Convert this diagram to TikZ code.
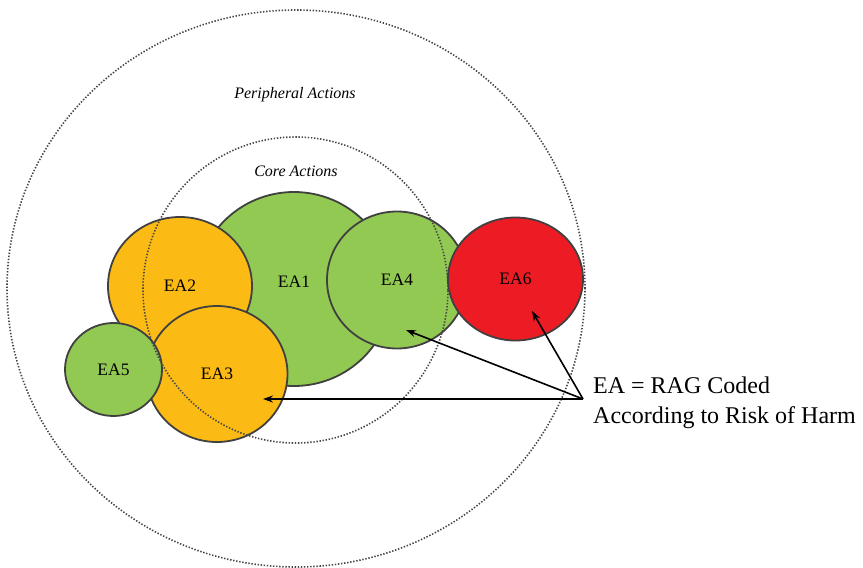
\documentclass[tikz,border=0pt]{standalone}
\usepackage{fontspec}
\setmainfont{Liberation Serif}
\usetikzlibrary{shapes.geometric,arrows.meta}
\definecolor{ragGreen}{RGB}{146,201,83}
\definecolor{ragAmber}{RGB}{252,187,20}
\definecolor{ragRed}{RGB}{237,28,36}
\definecolor{rimGray}{RGB}{64,64,64}
\definecolor{dotGray}{RGB}{70,70,70}
\tikzset{
  ea/.style={ellipse, draw=rimGray, line width=1.8pt, inner sep=0pt,
    font=\fontsize{17.5}{17.5}\selectfont},
  zone/.style={ellipse, draw=dotGray, line width=1.6pt,
    dash pattern=on 1.4pt off 1.7pt, inner sep=0pt},
  zonelabel/.style={font=\fontsize{16}{16}\selectfont\itshape},
  pointer/.style={line width=1.6pt, -{Stealth[length=10pt,width=7pt]}}
}
\begin{document}
\begin{tikzpicture}[x=1pt,y=-1pt]
  \useasboundingbox (0,0) rectangle (863,568);

  % element actions, back to front
  \node[ea, fill=ragGreen, minimum width=196pt, minimum height=194pt,
        label={[font=\fontsize{17.5}{17.5}\selectfont, yshift=7pt]center:EA1}]
        (ea1) at (294,289) {};
  \node[ea, fill=ragAmber, minimum width=144pt, minimum height=138pt] (ea2) at (180,286) {EA2};
  \node[ea, fill=ragGreen, minimum width=140pt, minimum height=137pt] (ea4) at (397,280) {EA4};
  \node[ea, fill=ragRed,   minimum width=135pt, minimum height=123pt] (ea6) at (515.5,279) {EA6};
  \node[ea, fill=ragAmber, minimum width=141pt, minimum height=136pt] (ea3) at (217,374) {EA3};
  \node[ea, fill=ragGreen, minimum width=97pt,  minimum height=93pt]  (ea5) at (113.5,369.5) {EA5};

  % action zones
  \node[zone, minimum width=578pt, minimum height=557pt] (outer) at (296,288.5) {};
  \node[zone, minimum width=305pt, minimum height=306pt] (inner) at (295.5,290) {};
  \node[zonelabel] (plabel) at (295,95) {Peripheral Actions};
  \node[zonelabel] (clabel) at (296,171) {Core Actions};

  % legend and pointers
  \node[anchor=north west, inner sep=0pt, align=left,
        font=\fontsize{24}{30}\selectfont] (key) at (593,377)
        {EA = RAG Coded\\According to Risk of Harm};
  \coordinate (apex) at (583,399);
  \coordinate (tip3) at (263,399);
  \coordinate (tip4) at (406,330);
  \coordinate (tip6) at (532,311);
  \draw[pointer] (apex) -- (tip3);
  \draw[pointer] (apex) -- (tip4);
  \draw[pointer] (apex) -- (tip6);
\end{tikzpicture}
\end{document}
